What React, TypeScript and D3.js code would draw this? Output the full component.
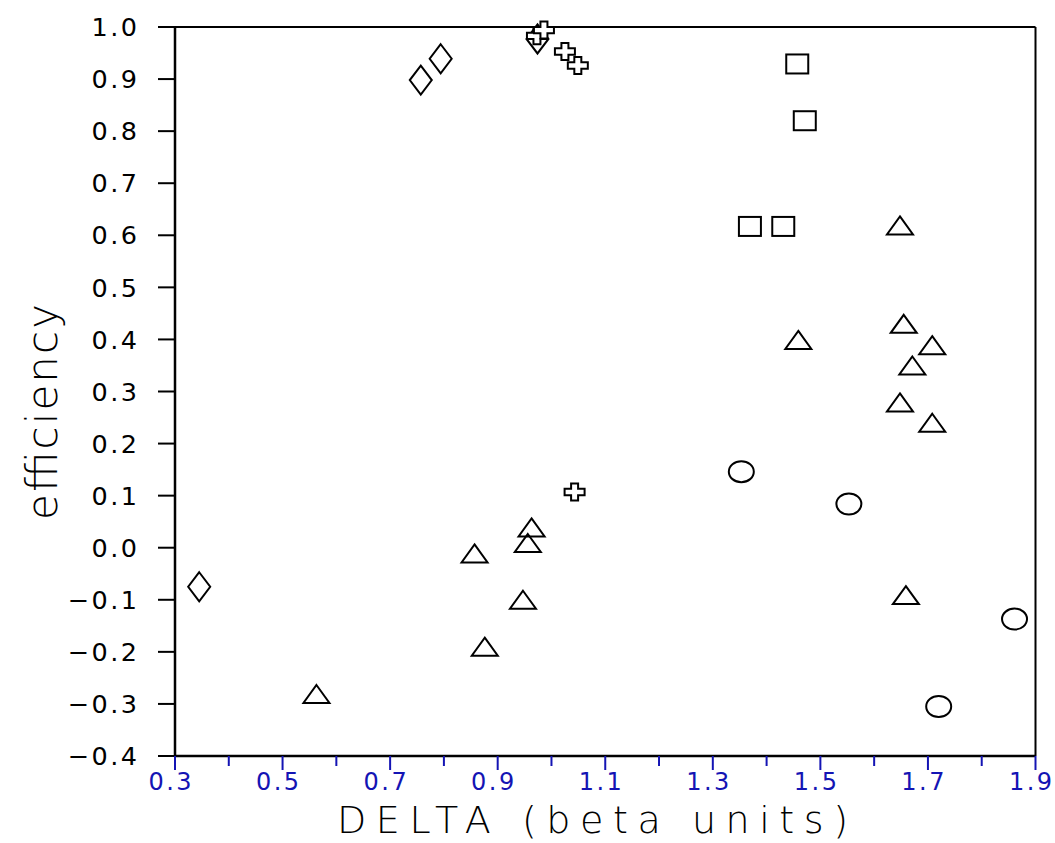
import React from "react";
import * as d3 from "d3";

// ---- data ----
const diamondX = [0.345, 0.757, 0.794, 0.974];
const diamondY = [-0.075, 0.898, 0.939, 0.977];

const crossX = [0.973, 0.986, 1.025, 1.049, 1.043];
const crossY = [0.983, 0.994, 0.953, 0.926, 0.107];

const squareX = [1.457, 1.471, 1.369, 1.431];
const squareY = [0.929, 0.82, 0.617, 0.617];

const triangleX = [1.648, 1.655, 1.708, 1.671, 1.648, 1.708, 1.459, 1.659, 0.563, 0.876, 0.857, 0.963, 0.956, 0.947];
const triangleY = [0.619, 0.43, 0.389, 0.35, 0.279, 0.24, 0.399, -0.091, -0.281, -0.19, -0.011, 0.039, 0.009, -0.1];

const circleX = [1.353, 1.553, 1.861, 1.72];
const circleY = [0.146, 0.084, -0.137, -0.305];

const yTicks = [-0.4, -0.3, -0.2, -0.1, 0.0, 0.1, 0.2, 0.3, 0.4, 0.5, 0.6, 0.7, 0.8, 0.9, 1.0];
const xTicks = [0.3, 0.4, 0.5, 0.6, 0.7, 0.8, 0.9, 1.0, 1.1, 1.2, 1.3, 1.4, 1.5, 1.6, 1.7, 1.8, 1.9];
const xLabels = [0.3, 0.5, 0.7, 0.9, 1.1, 1.3, 1.5, 1.7, 1.9];

const W = 1055;
const H = 843;
const L = 175, R = 1035.5, T = 27, B = 756;

const x = d3.scaleLinear().domain([0.3, 1.9]).range([L, R]);
const y = d3.scaleLinear().domain([-0.4, 1.0]).range([B, T]);

const fmt = (v: number) => {
  const s = d3.format(".1f")(Math.abs(v) < 1e-9 ? 0 : v);
  return s.replace("-", "\u2212");
};

const diamondPath = (cx: number, cy: number) => {
  const w = 11, h = 14.5;
  return `M${cx},${cy - h}L${cx + w},${cy}L${cx},${cy + h}L${cx - w},${cy}Z`;
};
const trianglePath = (cx: number, cy: number) => {
  const w = 13, h = 9;
  return `M${cx},${cy - h}L${cx + w},${cy + h}L${cx - w},${cy + h}Z`;
};
const crossPath = (cx: number, cy: number) => {
  const a = 10, b = 3.5, c = 8.5, d = 3.2;
  return `M${cx - b},${cy - c}H${cx + b}V${cy - d}H${cx + a}V${cy + d}H${cx + b}V${cy + c}H${cx - b}V${cy + d}H${cx - a}V${cy - d}H${cx - b}Z`;
};

const stroke = { fill: "none", stroke: "#000", strokeWidth: 2 } as const;
const LS = 2.5;

export default function App() {
  const tickFont = "'DejaVu Sans', sans-serif";
  return (
    <svg width={W} height={H} style={{ position: "absolute", left: 0, top: 0, background: "#fff" }}>
      <rect x={0} y={0} width={W} height={H} fill="#fff" />
      {/* frame */}
      <line x1={L} y1={T} x2={R} y2={T} stroke="#000" strokeWidth={2} />
      <line x1={R} y1={T} x2={R} y2={B} stroke="#000" strokeWidth={2} />
      <line x1={L} y1={T} x2={L} y2={B} stroke="#000" strokeWidth={2.5} />
      <line x1={L} y1={B} x2={R} y2={B} stroke="#000" strokeWidth={2.5} />

      {/* y ticks */}
      {yTicks.map((v) => (
        <g key={"y" + v}>
          <line x1={L - 17} x2={L} y1={y(v)} y2={y(v)} stroke="#000" strokeWidth={2} />
          <text
            x={137 + LS}
            y={y(v)}
            dy="0.36em"
            textAnchor="end"
            fontFamily={tickFont}
            fontSize={25.5}
            letterSpacing={LS}
            fill="#000"
          >
            {fmt(v)}
          </text>
        </g>
      ))}

      {/* x ticks */}
      {xTicks.map((v) => {
        const major = xLabels.some((l) => Math.abs(l - v) < 1e-9);
        return (
          <line
            key={"x" + v}
            x1={x(v)}
            x2={x(v)}
            y1={B}
            y2={B + (major ? 14 : 10)}
            stroke="#1414b4"
            strokeWidth={2}
          />
        );
      })}
      {xLabels.map((v) => (
        <text
          key={"xl" + v}
          x={x(v) - 5 + LS / 2}
          y={790}
          textAnchor="middle"
          fontFamily={tickFont}
          fontSize={24}
          letterSpacing={LS}
          fill="#1414b4"
        >
          {fmt(v)}
        </text>
      ))}

      {/* axis titles */}
      <text
        x={337}
        y={833}
        fontFamily={tickFont}
        fontWeight={200}
        fontSize={38}
        textLength={511}
        lengthAdjust="spacing"
        fill="#000"
      >
        DELTA (beta units)
      </text>
      <text
        transform="translate(57,520) rotate(-90)"
        x={0}
        y={0}
        fontFamily={tickFont}
        fontWeight={200}
        fontSize={42}
        textLength={216}
        lengthAdjust="spacing"
        fill="#000"
      >
        efficiency
      </text>

      {/* markers */}
      {diamondX.map((v, i) => (
        <path key={"d" + i} d={diamondPath(x(v), y(diamondY[i]))} {...stroke} />
      ))}
      {crossX.map((v, i) => (
        <path key={"c" + i} d={crossPath(x(v), y(crossY[i]))} {...stroke} fill="#fff" />
      ))}
      {squareX.map((v, i) => (
        <rect
          key={"s" + i}
          x={x(v) - 11}
          y={y(squareY[i]) - 9.5}
          width={22}
          height={19}
          {...stroke}
        />
      ))}
      {triangleX.map((v, i) => (
        <path key={"t" + i} d={trianglePath(x(v), y(triangleY[i]))} {...stroke} />
      ))}
      {circleX.map((v, i) => (
        <ellipse key={"o" + i} cx={x(v)} cy={y(circleY[i])} rx={12.5} ry={10.5} {...stroke} />
      ))}
    </svg>
  );
}
